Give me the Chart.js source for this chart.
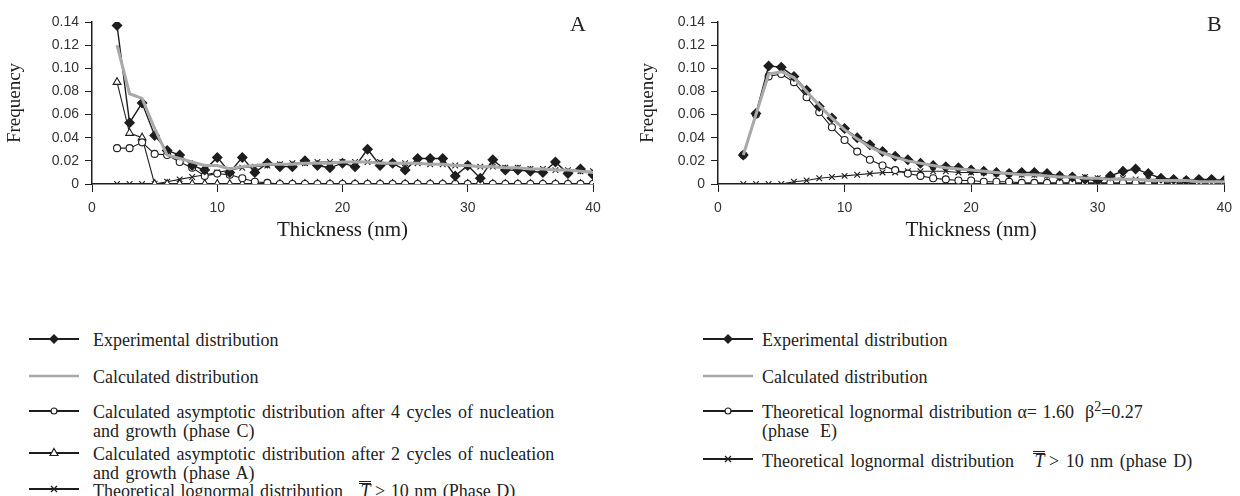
<!DOCTYPE html>
<html>
<head>
<meta charset="utf-8">
<script src="https://cdn.jsdelivr.net/npm/chart.js@4.4.1/dist/chart.umd.min.js"></script>
<style>
  body { margin: 0; background: #fff; }
  #wrap { position: relative; width: 1240px; height: 496px; overflow: hidden; background: #fff; font-family: "Liberation Serif", "Times New Roman", serif; color: #222; }
  .chart { position: absolute; top: 0; width: 620px; height: 250px; }
  .tag { position: absolute; top: 11px; font-size: 22px; }
  .row { position: absolute; display: flex; align-items: flex-start; font-size: 18px; line-height: 19px; white-space: nowrap; word-spacing: 1px; }
  .row svg { flex: none; }
  .tbar { font-style: italic; display: inline-block; border-top: 3px double #222; line-height: 14px; padding: 0 1px; word-spacing: 0; }
</style>
</head>
<body>
<div id="wrap">
  <div class="chart" style="left:0"><canvas id="chartA" width="620" height="250"></canvas></div>
  <div class="chart" style="left:620px"><canvas id="chartB" width="620" height="250"></canvas></div>
  <div class="tag" style="left:570px">A</div>
  <div class="tag" style="left:1207px">B</div>
  <div id="legendA"></div>
  <div id="legendB"></div>
</div>
<script>
// thickness classes (nm)
const thickness = [2,3,4,5,6,7,8,9,10,11,12,13,14,15,16,17,18,19,20,21,22,23,24,25,26,27,28,29,30,31,32,33,34,35,36,37,38,39,40];

// panel A
const expA = [0.137,0.053,0.070,0.042,0.029,0.025,0.016,0.012,0.023,0.010,0.023,0.010,0.018,0.015,0.015,0.020,0.016,0.014,0.018,0.015,0.030,0.016,0.018,0.012,0.022,0.022,0.022,0.007,0.016,0.005,0.021,0.012,0.012,0.011,0.010,0.019,0.009,0.013,0.008];
const calcA = [0.120,0.078,0.074,0.048,0.025,0.022,0.019,0.016,0.016,0.013,0.015,0.016,0.017,0.017,0.017,0.018,0.018,0.018,0.019,0.019,0.019,0.018,0.018,0.018,0.018,0.017,0.017,0.016,0.016,0.015,0.015,0.014,0.014,0.013,0.013,0.012,0.012,0.011,0.010];
const phaseC_A = [0.031,0.031,0.036,0.026,0.025,0.019,0.014,0.007,0.009,0.008,0.005,0.002,0.001,0,0,0,0,0,0,0,0,0,0,0,0,0,0,0,0,0,0,0,0,0,0,0,0,0,0];
const phaseA_A = [0.088,0.044,0.040,0,0,0,0,0,0,0,0,0,0,0,0,0,0,0,0,0,0,0,0,0,0,0,0,0,0,0,0,0,0,0,0,0,0,0,0];
const phaseD_A = [0,0,0,0,0.002,0.004,0.006,0.008,0.010,0.012,0.014,0.015,0.016,0.017,0.018,0.018,0.019,0.019,0.019,0.019,0.019,0.019,0.018,0.018,0.018,0.017,0.017,0.016,0.016,0.015,0.015,0.014,0.014,0.013,0.013,0.012,0.012,0.011,0.011];

// panel B
const expB = [0.025,0.061,0.102,0.101,0.093,0.081,0.067,0.057,0.048,0.040,0.034,0.028,0.024,0.021,0.018,0.016,0.015,0.014,0.012,0.011,0.010,0.009,0.010,0.010,0.009,0.007,0.006,0.004,0.003,0.007,0.011,0.013,0.009,0.005,0.004,0.003,0.004,0.004,0.003];
const calcB = [0.025,0.060,0.095,0.097,0.092,0.080,0.068,0.057,0.047,0.039,0.032,0.027,0.023,0.020,0.018,0.016,0.014,0.013,0.012,0.011,0.010,0.009,0.008,0.008,0.007,0.006,0.006,0.005,0.005,0.004,0.004,0.004,0.003,0.003,0.003,0.003,0.002,0.002,0.002];
const phaseE_B = [0.025,0.060,0.093,0.095,0.088,0.075,0.062,0.049,0.038,0.028,0.021,0.016,0.012,0.009,0.007,0.005,0.004,0.003,0.003,0.002,0.002,0.002,0.001,0.001,0.001,0.001,0.001,0.001,0.001,0.001,0.001,0.001,0.001,0.001,0.001,0.001,0.001,0.001,0.001];
const phaseD_B = [0,0,0,0,0.002,0.003,0.005,0.006,0.007,0.008,0.009,0.010,0.010,0.011,0.011,0.011,0.011,0.010,0.010,0.010,0.009,0.009,0.008,0.008,0.007,0.007,0.006,0.006,0.005,0.005,0.005,0.004,0.004,0.004,0.003,0.003,0.003,0.003,0.002];

const xTicks = [0, 10, 20, 30, 40];
const yTicks = [0, 0.02, 0.04, 0.06, 0.08, 0.10, 0.12, 0.14];

const INK = '#1e1e1e';
const GREY = '#a9a9a9';

function pts(arr) {
  return thickness.map((t, i) => ({ x: t, y: arr[i] }));
}

function expSet(arr) {
  return { data: pts(arr), borderColor: INK, borderWidth: 1.4, pointStyle: 'rectRot', pointRadius: 4.5, pointBackgroundColor: INK, pointBorderColor: INK, order: 1 };
}
function calcSet(arr) {
  return { data: pts(arr), borderColor: GREY, borderWidth: 3, pointRadius: 0, order: 0 };
}
function markSet(arr, style, r) {
  return { data: pts(arr), borderColor: INK, borderWidth: 1.1, pointStyle: style, pointRadius: r, pointBackgroundColor: '#fff', pointBorderColor: INK, pointBorderWidth: 1.1, order: 2 };
}

function makeChart(id, datasets, yWidth, padRight, titlePad) {
  return new Chart(document.getElementById(id), {
    type: 'line',
    data: { datasets: datasets },
    options: {
      responsive: false,
      animation: false,
      layout: { padding: { left: 0, right: padRight, top: 22, bottom: 0 } },
      plugins: { legend: { display: false }, tooltip: { enabled: false } },
      scales: {
        x: {
          type: 'linear', min: 0, max: 40,
          afterBuildTicks: s => { s.ticks = xTicks.map(v => ({ value: v })); },
          afterFit: s => { s.height = 66; },
          grid: { display: true, drawOnChartArea: false, drawTicks: true, tickLength: 8, color: INK, lineWidth: 1 },
          border: { display: true, color: INK, width: 1.5 },
          ticks: { padding: 8, color: '#333', font: { family: 'Liberation Sans, Arial, sans-serif', size: 14 } },
          title: { display: true, text: 'Thickness (nm)', color: INK, padding: { top: 0, bottom: 7 }, font: { family: 'Liberation Serif, serif', size: 21 } }
        },
        y: {
          min: 0, max: 0.14,
          afterBuildTicks: s => { s.ticks = yTicks.map(v => ({ value: v })); },
          afterFit: s => { s.width = yWidth; },
          grid: { display: true, drawOnChartArea: false, drawTicks: true, tickLength: 7, color: INK, lineWidth: 1 },
          border: { display: true, color: INK, width: 1.5 },
          ticks: { padding: 6, color: '#333', font: { family: 'Liberation Sans, Arial, sans-serif', size: 14 },
                   callback: v => v === 0 ? '0' : v.toFixed(2) },
          title: { display: true, text: 'Frequency', color: INK, padding: { top: titlePad, bottom: 0 }, font: { family: 'Liberation Serif, serif', size: 19 } }
        }
      }
    }
  });
}

makeChart('chartA', [
  expSet(expA), calcSet(calcA),
  markSet(phaseC_A, 'circle', 3.5), markSet(phaseA_A, 'triangle', 4.5), markSet(phaseD_A, 'crossRot', 4)
], 92, 27, 4);

makeChart('chartB', [
  expSet(expB), calcSet(calcB),
  markSet(phaseE_B, 'circle', 3.5), markSet(phaseD_B, 'crossRot', 4)
], 98, 10, 17);

// legends
function sym(kind) {
  const w = 50, h = 16, c = 8;
  let s = '<svg width="' + w + '" height="' + h + '">';
  if (kind === 'calc') {
    s += '<line x1="0" y1="' + c + '" x2="' + w + '" y2="' + c + '" stroke="' + GREY + '" stroke-width="2.5"/>';
  } else {
    s += '<line x1="0" y1="' + c + '" x2="' + w + '" y2="' + c + '" stroke="' + INK + '" stroke-width="2"/>';
  }
  if (kind === 'exp') s += '<polygon points="25,3 30,8 25,13 20,8" fill="' + INK + '"/>';
  if (kind === 'circle') s += '<circle cx="25" cy="8" r="3" fill="#fff" stroke="' + INK + '" stroke-width="1.2"/>';
  if (kind === 'tri') s += '<polygon points="25,3.5 29,10.5 21,10.5" fill="#fff" stroke="' + INK + '" stroke-width="1.2"/>';
  if (kind === 'cross') s += '<path d="M22,5 L28,11 M28,5 L22,11" stroke="' + INK + '" stroke-width="1.3"/>';
  return s + '</svg>';
}

const legendA = [
  ['exp', 331, 'Experimental distribution', 1],
  ['calc', 368, 'Calculated distribution', 1],
  ['circle', 403, 'Calculated asymptotic distribution after 4 cycles of nucleation<br>and growth (phase C)', 2],
  ['tri', 445, 'Calculated asymptotic distribution after 2 cycles of nucleation<br>and growth (phase A)', 2],
  ['cross', 481, 'Theoretical lognormal distribution &nbsp; <span class="tbar">T</span>&thinsp;&gt; 10 nm (Phase D)', 1]
];
const legendB = [
  ['exp', 331, 'Experimental distribution', 1],
  ['calc', 368, 'Calculated distribution', 1],
  ['circle', 403, 'Theoretical lognormal distribution &alpha;= 1.60&nbsp; &beta;<sup style="font-size:14px;line-height:0">2</sup>=0.27<br>(phase&nbsp; E)', 1],
  ['cross', 451, 'Theoretical lognormal distribution&nbsp;&nbsp; <span class="tbar">T</span>&thinsp;&gt; 10 nm (phase D)', 2]
];

function buildLegend(id, rows, symLeft, textLeft) {
  const el = document.getElementById(id);
  rows.forEach(r => {
    const d = document.createElement('div');
    d.className = 'row';
    d.style.left = symLeft + 'px';
    d.style.top = r[1] + 'px';
    d.style.wordSpacing = r[3] + 'px';
    d.innerHTML = sym(r[0]) + '<div style="margin-left:' + (textLeft - symLeft - 50) + 'px">' + r[2] + '</div>';
    el.appendChild(d);
  });
}
buildLegend('legendA', legendA, 29, 93);
buildLegend('legendB', legendB, 703, 762);
</script>
</body>
</html>
